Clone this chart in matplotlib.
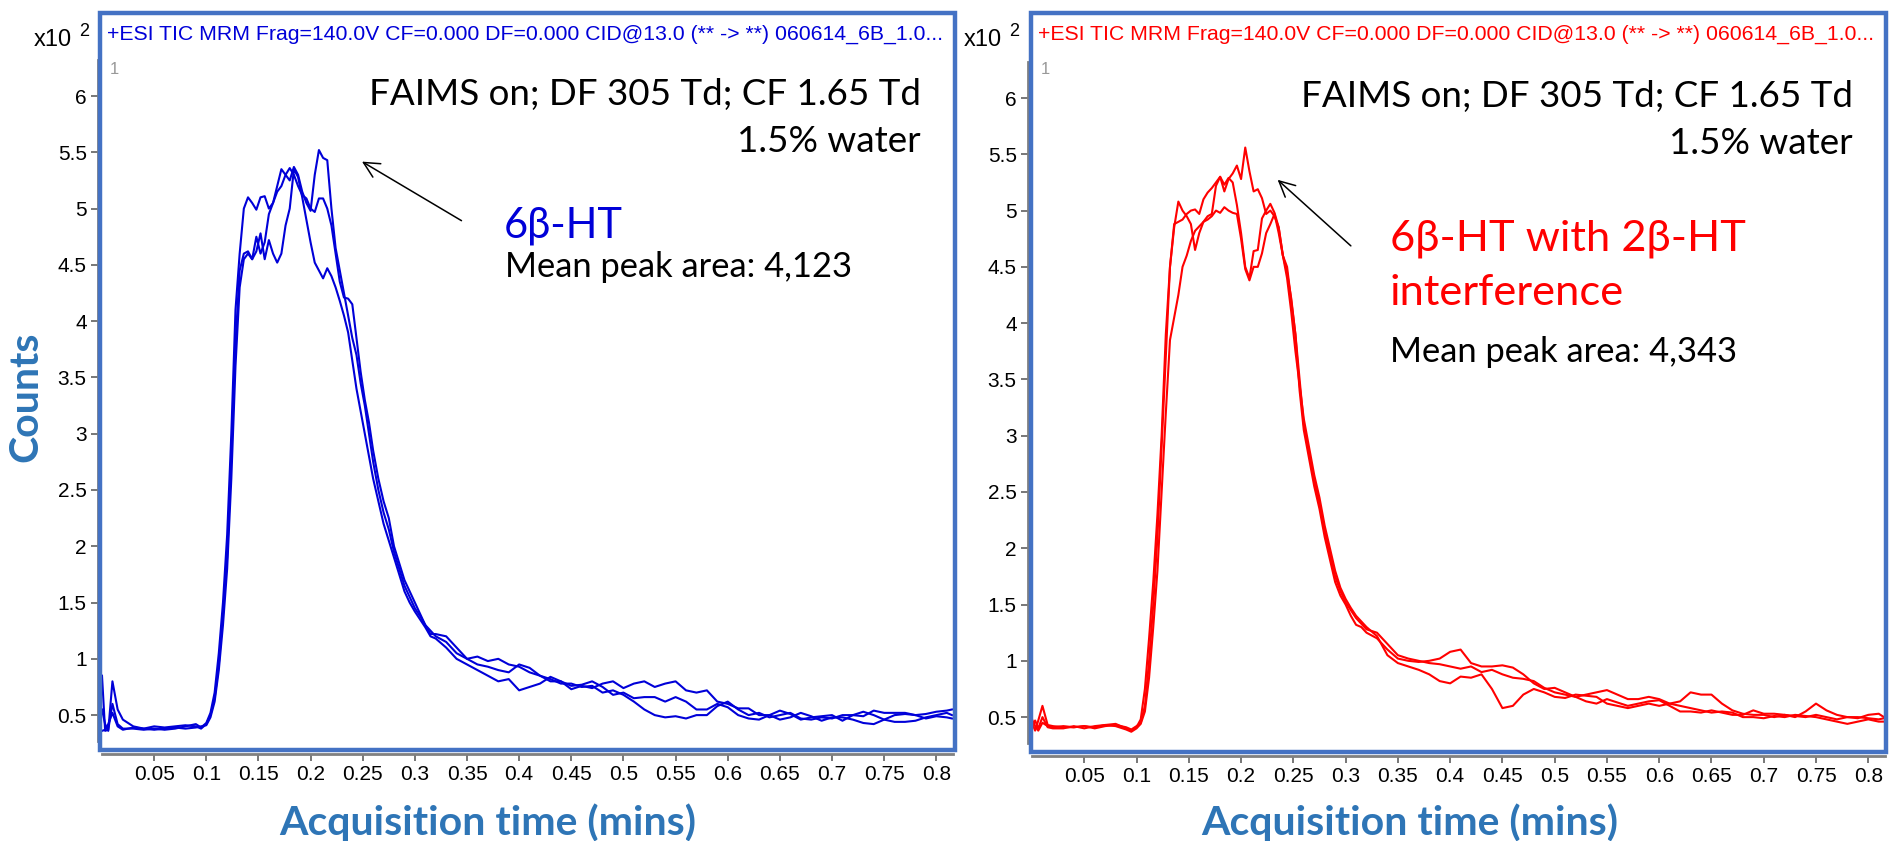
import matplotlib
matplotlib.use("Agg")
from matplotlib import pyplot as plt
from matplotlib.patches import Rectangle

plt.rcParams['font.family'] = ['Liberation Sans', 'DejaVu Sans']

# acquisition times (min), shared by every trace
time_min = [0, 0.003, 0.006, 0.01, 0.015, 0.02, 0.03, 0.04, 0.05, 0.06, 0.07, 0.08, 0.09, 0.095, 0.1,
            0.104, 0.108, 0.112, 0.116, 0.12, 0.124, 0.128, 0.132, 0.136, 0.14, 0.144, 0.148, 0.152, 0.156, 0.16,
            0.164, 0.168, 0.172, 0.176, 0.18, 0.184, 0.188, 0.192, 0.196, 0.2, 0.204, 0.208, 0.212, 0.216, 0.22,
            0.224, 0.228, 0.232, 0.236, 0.24, 0.244, 0.248, 0.252, 0.256, 0.26,
            0.265, 0.27, 0.275, 0.28, 0.285,
            0.29, 0.295, 0.3, 0.305, 0.31, 0.315, 0.32,
            0.33, 0.34, 0.35, 0.36, 0.37, 0.38, 0.39, 0.4, 0.41, 0.42,
            0.43, 0.44, 0.45, 0.46, 0.47, 0.48, 0.49, 0.5, 0.51, 0.52,
            0.53, 0.54, 0.55, 0.56, 0.57, 0.58, 0.59, 0.6, 0.61, 0.62,
            0.63, 0.64, 0.65, 0.66, 0.67, 0.68, 0.69, 0.7, 0.71, 0.72,
            0.73, 0.74, 0.75, 0.76, 0.77, 0.78, 0.79, 0.8, 0.81, 0.815]

# 6b-HT, three injections (counts x10^2)
blue_run1 = [0.85, 0.36, 0.37, 0.6, 0.42, 0.38, 0.38, 0.37, 0.38, 0.37, 0.38, 0.4, 0.42, 0.39, 0.43,
             0.52, 0.7, 1.05, 1.5, 2.1, 3.0, 4.1, 4.6, 5.0, 5.1, 5.05, 4.99, 5.1, 5.11, 5.0,
             5.05, 5.2, 5.35, 5.3, 5.36, 5.3, 5.2, 5.12, 5.09, 5.0, 4.97, 5.09, 5.09, 5.0, 4.85,
             4.6, 4.35, 4.21, 4.2, 4.15, 3.85, 3.55, 3.3, 3.1, 2.85,
             2.6, 2.4, 2.25, 2.0, 1.85,
             1.7, 1.6, 1.5, 1.4, 1.3, 1.25, 1.2,
             1.15, 1.05, 1.0, 1.02, 0.98, 1.0, 0.95, 0.93, 0.88, 0.85,
             0.82, 0.78, 0.78, 0.75, 0.76, 0.7, 0.72, 0.68, 0.62, 0.55,
             0.5, 0.48, 0.49, 0.47, 0.5, 0.5, 0.58, 0.62, 0.55, 0.5,
             0.52, 0.48, 0.5, 0.52, 0.47, 0.46, 0.48, 0.47, 0.5, 0.5,
             0.53, 0.5, 0.46, 0.44, 0.44, 0.45, 0.48, 0.5, 0.52, 0.5]
blue_run2 = [0.55, 0.42, 0.36, 0.8, 0.55, 0.46, 0.4, 0.38, 0.4, 0.39, 0.4, 0.41, 0.4, 0.38, 0.42,
             0.5, 0.65, 0.95, 1.4, 1.9, 2.8, 3.8, 4.45, 4.6, 4.62, 4.55, 4.75, 4.6, 4.7, 4.95,
             5.05, 5.15, 5.2, 5.3, 5.25, 5.37, 5.3, 5.15, 5.05, 4.98, 5.3, 5.52, 5.45, 5.43, 5.0,
             4.65, 4.45, 4.25, 4.05, 3.85, 3.7, 3.45, 3.25, 3.0, 2.75,
             2.5, 2.3, 2.15, 1.95, 1.8,
             1.65, 1.55, 1.45, 1.38, 1.3, 1.22, 1.22,
             1.2, 1.1, 1.0, 0.95, 0.93, 0.9, 0.88, 0.95, 0.92, 0.85,
             0.8, 0.8, 0.76, 0.77, 0.8, 0.75, 0.68, 0.7, 0.65, 0.66,
             0.66, 0.62, 0.66, 0.62, 0.55, 0.55, 0.6, 0.57, 0.5, 0.47,
             0.46, 0.5, 0.46, 0.48, 0.52, 0.49, 0.45, 0.48, 0.48, 0.46,
             0.43, 0.42, 0.46, 0.5, 0.51, 0.5, 0.51, 0.53, 0.54, 0.55]
blue_run3 = [0.36, 0.37, 0.42, 0.52, 0.4, 0.37, 0.39, 0.38, 0.37, 0.38, 0.39, 0.38, 0.39, 0.4, 0.41,
             0.48, 0.62, 0.9, 1.3, 1.8, 2.6, 3.6, 4.3, 4.55, 4.6, 4.55, 4.62, 4.78, 4.55, 4.72,
             4.6, 4.52, 4.6, 4.85, 5.0, 5.35, 5.28, 5.1, 4.9, 4.7, 4.52, 4.45, 4.38, 4.47, 4.4,
             4.3, 4.18, 4.05, 3.9, 3.65, 3.4, 3.2, 3.0, 2.8, 2.6,
             2.4, 2.2, 2.05, 1.9, 1.75,
             1.6, 1.5, 1.42, 1.35, 1.28, 1.2, 1.18,
             1.1, 1.0, 0.95, 0.9, 0.85, 0.8, 0.82, 0.72, 0.75, 0.78,
             0.84, 0.8, 0.73, 0.76, 0.74, 0.78, 0.8, 0.74, 0.78, 0.8,
             0.75, 0.78, 0.8, 0.72, 0.7, 0.72, 0.62, 0.6, 0.56, 0.56,
             0.5, 0.5, 0.54, 0.51, 0.46, 0.48, 0.49, 0.5, 0.45, 0.5,
             0.49, 0.54, 0.52, 0.52, 0.52, 0.5, 0.47, 0.49, 0.48, 0.47]

# 6b-HT with 2b-HT interference, three injections
red_run1 = [0.45, 0.38, 0.47, 0.6, 0.43, 0.42, 0.41, 0.41, 0.42, 0.41, 0.43, 0.44, 0.4, 0.38, 0.41,
            0.48, 0.75, 1.2, 1.7, 2.3, 3.0, 3.9, 4.5, 4.85, 5.08, 5.0, 4.95, 4.88, 4.65, 4.8,
            4.9, 4.95, 4.97, 5.22, 5.3, 5.17, 5.28, 5.33, 5.4, 5.28, 5.56, 5.35, 5.17, 5.19, 5.11,
            4.97, 5.0, 4.95, 4.85, 4.6, 4.45, 4.22, 3.9, 3.4, 3.05,
            2.8, 2.55, 2.35, 2.1, 1.9,
            1.7, 1.58, 1.5, 1.4, 1.32, 1.3, 1.25,
            1.2, 1.1, 1.02, 1.0, 0.99, 1.0, 1.02, 1.08, 1.1, 0.98,
            0.95, 0.95, 0.96, 0.94, 0.88, 0.8, 0.75, 0.76, 0.72, 0.68,
            0.7, 0.72, 0.74, 0.7, 0.66, 0.66, 0.68, 0.66, 0.62, 0.64,
            0.72, 0.7, 0.7, 0.62, 0.56, 0.53, 0.52, 0.52, 0.5, 0.52,
            0.5, 0.55, 0.62, 0.56, 0.52, 0.5, 0.49, 0.52, 0.53, 0.5]
red_run2 = [0.48, 0.42, 0.38, 0.45, 0.42, 0.41, 0.42, 0.41, 0.42, 0.4, 0.42, 0.43, 0.41, 0.39, 0.42,
            0.45, 0.6, 1.0, 1.5, 2.1, 2.9, 3.7, 4.5, 4.88, 4.9, 4.92, 4.97, 5.0, 5.01, 4.97,
            5.1, 5.16, 5.2, 5.25, 5.3, 5.23, 5.29, 5.25, 5.05, 4.8, 4.5, 4.4, 4.64, 4.65, 4.93,
            5.0, 5.06, 4.98, 4.85, 4.6, 4.5, 4.2, 3.9, 3.5, 3.1,
            2.85, 2.6, 2.4, 2.15, 1.95,
            1.75, 1.62, 1.52, 1.45, 1.38, 1.33, 1.28,
            1.25, 1.15, 1.05, 1.02, 1.0, 0.98, 0.97, 0.95, 0.93, 0.95,
            0.9, 0.92, 0.88, 0.85, 0.84, 0.82, 0.76, 0.72, 0.7, 0.68,
            0.64, 0.62, 0.66, 0.63, 0.6, 0.62, 0.64, 0.65, 0.6, 0.55,
            0.55, 0.54, 0.56, 0.54, 0.52, 0.52, 0.56, 0.53, 0.53, 0.52,
            0.51, 0.5, 0.52, 0.5, 0.48, 0.5, 0.5, 0.49, 0.48, 0.49]
red_run3 = [0.4, 0.47, 0.4, 0.5, 0.41, 0.4, 0.4, 0.42, 0.4, 0.42, 0.43, 0.42, 0.39, 0.37, 0.4,
            0.44, 0.55, 0.85, 1.3, 1.8, 2.5, 3.2, 3.85, 4.05, 4.25, 4.5, 4.6, 4.73, 4.82, 4.86,
            4.9, 4.92, 4.95, 5.0, 4.98, 5.03, 5.0, 4.98, 4.97, 4.75, 4.48, 4.38, 4.5, 4.5, 4.62,
            4.8, 4.88, 4.97, 4.8, 4.6, 4.4, 4.1, 3.75, 3.45, 3.15,
            2.9, 2.65, 2.45, 2.2, 2.0,
            1.8, 1.65, 1.55, 1.47, 1.4, 1.35, 1.3,
            1.22, 1.05, 0.98, 0.95, 0.92, 0.88, 0.82, 0.8, 0.86, 0.85,
            0.88, 0.75, 0.58, 0.6, 0.7, 0.75, 0.72, 0.68, 0.67, 0.7,
            0.69, 0.68, 0.62, 0.6, 0.58, 0.6, 0.62, 0.6, 0.62, 0.6,
            0.58, 0.56, 0.54, 0.55, 0.54, 0.5, 0.5, 0.49, 0.51, 0.5,
            0.52, 0.51, 0.5, 0.48, 0.46, 0.44, 0.46, 0.48, 0.46, 0.46]

x_ticks = [0.05, 0.1, 0.15, 0.2, 0.25, 0.3, 0.35, 0.4, 0.45, 0.5, 0.55, 0.6, 0.65, 0.7, 0.75, 0.8]
y_ticks = [0.5, 1, 1.5, 2, 2.5, 3, 3.5, 4, 4.5, 5, 5.5, 6]

title_text = "+ESI TIC MRM Frag=140.0V CF=0.000 DF=0.000 CID@13.0 (** -> **) 060614_6B_1.0..."
condition_text = "FAIMS on; DF 305 Td; CF 1.65 Td"
water_text = "1.5% water"

W, H = 1889, 841
frame_color = "#4472C4"
label_color = "#2E75B6"
blue = "#0000D8"
red = "#FF0000"
callout_font = ['Lato', 'Noto Sans', 'DejaVu Sans']


def fx(px):
    return px / W


def fy(py):
    return 1 - py / H


def setup_axes(ax):
    ax.set_xlim(0, 0.816)
    ax.set_ylim(0.27, 6.32)
    ax.spines['top'].set_visible(False)
    ax.spines['right'].set_visible(False)
    ax.spines['left'].set_position(('outward', 3))
    ax.spines['bottom'].set_position(('outward', 9))
    for side in ('left', 'bottom'):
        ax.spines[side].set_color('#808080')
        ax.spines[side].set_linewidth(2)
    ax.set_xticks(x_ticks)
    ax.set_xticklabels(["%g" % v for v in x_ticks])
    ax.set_yticks(y_ticks)
    ax.set_yticklabels(["%g" % v for v in y_ticks])
    ax.tick_params(direction='out', length=5, width=1.2, color='#606060',
                   labelsize=15, pad=3)


fig = plt.figure(figsize=(W / 100, H / 100), dpi=100)

ax_l = fig.add_axes([fx(102), fy(741), 851 / W, 681 / H])
ax_r = fig.add_axes([fx(1032), fy(743), 853 / W, 681 / H])

for run in (blue_run1, blue_run2, blue_run3):
    ax_l.plot(time_min, run, color=blue, lw=1.5)
for run in (red_run1, red_run2, red_run3):
    ax_r.plot(time_min, run, color=red, lw=1.5)

for ax in (ax_l, ax_r):
    setup_axes(ax)
    ax.text(0.785, 6.01, condition_text, ha='right', va='center', fontsize=26.5, family=callout_font)
    ax.text(0.785, 5.6, water_text, ha='right', va='center', fontsize=26.5, family=callout_font)

# callouts
ax_l.annotate("", xy=(0.247, 5.43), xytext=(0.347, 4.88),
              arrowprops=dict(arrowstyle='->', color='black', lw=1.1, mutation_scale=28))
ax_l.text(0.385, 4.85, "6β-HT", color=blue, fontsize=30, va='center', family=callout_font)
ax_l.text(0.386, 4.48, "Mean peak area: 4,123", fontsize=24.8, va='center', family=callout_font)

ax_r.annotate("", xy=(0.233, 5.29), xytext=(0.307, 4.67),
              arrowprops=dict(arrowstyle='->', color='black', lw=1.1, mutation_scale=28))
ax_r.text(0.342, 4.75, "6β-HT with 2β-HT", color=red, fontsize=31.3, va='center', family=callout_font)
ax_r.text(0.342, 4.27, "interference", color=red, fontsize=31.3, va='center', family=callout_font)
ax_r.text(0.342, 3.74, "Mean peak area: 4,343", fontsize=24.8, va='center', family=callout_font)

# frames, headers and exponent labels
panels = [(100, 955, 750, blue, 34), (1031, 1886, 752, red, 964)]
for left, right, bottom, color, exp_x in panels:
    fig.add_artist(Rectangle((fx(left), fy(bottom)), (right - left) / W, (bottom - 13) / H,
                             transform=fig.transFigure, fill=False, ec=frame_color, lw=3.2, zorder=10))
    fig.text(fx(left + 7), fy(34), title_text, color=color, fontsize=15.3, ha='left', va='center')
    fig.text(fx(left + 10), fy(70), "1", color='#999999', fontsize=12, ha='left', va='center')
    fig.text(fx(exp_x), fy(40), "x10", fontsize=17, ha='left', va='center')
    fig.text(fx(exp_x + 45), fy(31), "2", fontsize=13, ha='left', va='center')

fig.text(fx(26), fy(397), "Counts", rotation=90, fontsize=29.5, fontweight='bold',
         color=label_color, ha='center', va='center', family=callout_font)
fig.text(fx(488), fy(823), "Acquisition time (mins)", fontsize=29.5, fontweight='bold',
         color=label_color, ha='center', va='center', family=callout_font)
fig.text(fx(1410), fy(823), "Acquisition time (mins)", fontsize=29.5, fontweight='bold',
         color=label_color, ha='center', va='center', family=callout_font)

fig.savefig("out.png", dpi=100)
